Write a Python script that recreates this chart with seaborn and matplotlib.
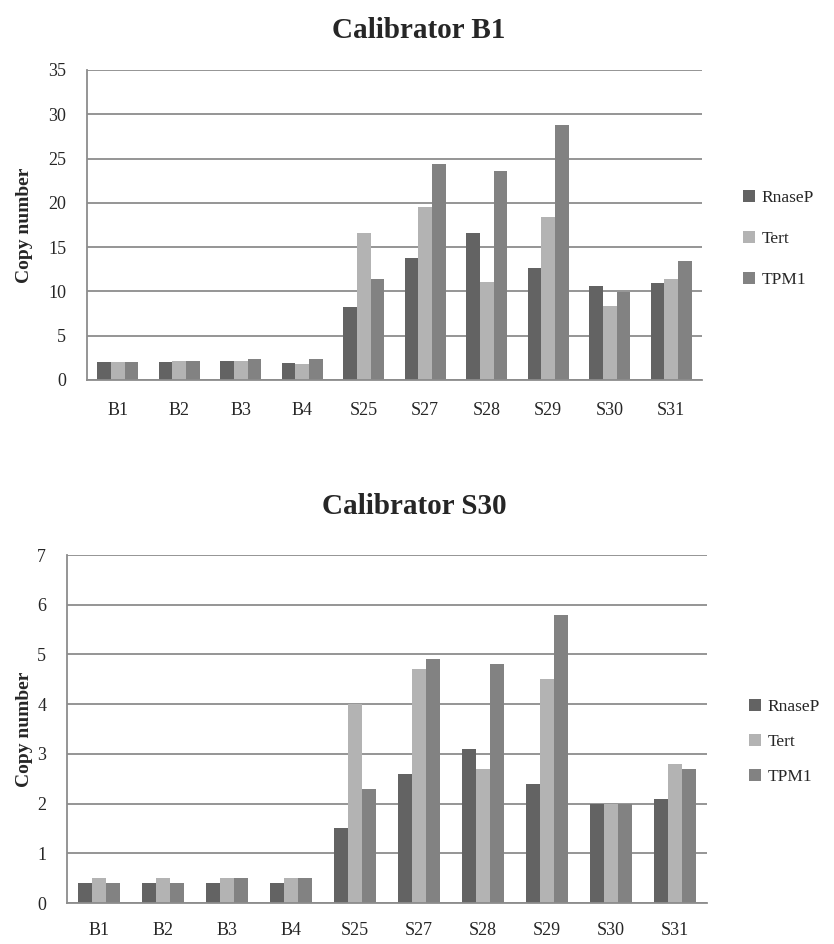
import matplotlib
matplotlib.use("Agg")
import matplotlib.pyplot as plt
import seaborn as sns
import pandas as pd
import numpy as np

samples = ["B1", "B2", "B3", "B4", "S25", "S27", "S28", "S29", "S30", "S31"]
genes = ["RnaseP", "Tert", "TPM1"]

# Copy number relative to calibrator B1
b1_rnasep = [2.0, 2.0, 2.1, 1.9, 8.2, 13.8, 16.6, 12.7, 10.6, 10.9]
b1_tert = [2.0, 2.1, 2.2, 1.8, 16.6, 19.5, 11.1, 18.4, 8.3, 11.4]
b1_tpm1 = [2.0, 2.2, 2.4, 2.4, 11.4, 24.4, 23.6, 28.8, 9.9, 13.4]

# Copy number relative to calibrator S30
s30_rnasep = [0.4, 0.4, 0.4, 0.4, 1.5, 2.6, 3.1, 2.4, 2.0, 2.1]
s30_tert = [0.5, 0.5, 0.5, 0.5, 4.0, 4.7, 2.7, 4.5, 2.0, 2.8]
s30_tpm1 = [0.4, 0.4, 0.5, 0.5, 2.3, 4.9, 4.8, 5.8, 2.0, 2.7]

colors = ["#636363", "#b3b3b3", "#828282"]

sns.set_style("white")
plt.rcParams["font.family"] = ["Liberation Serif", "DejaVu Serif"]

W, H = 834, 944
fig = plt.figure(figsize=(W / 100, H / 100), dpi=100)


def long_frame(series):
    rows = []
    for gene, vals in zip(genes, series):
        for s, v in zip(samples, vals):
            rows.append({"sample": s, "gene": gene, "value": v})
    return pd.DataFrame(rows)


def make_axes(left, top, right, bottom):
    return fig.add_axes([left / W, 1 - bottom / H, (right - left) / W, (bottom - top) / H])


grid_c = "#8c8c8c"


def draw(ax, series, ymax, ystep, title, title_xy, legend_xy, row_gap, xpad, ylab_x):
    df = long_frame(series)
    sns.barplot(data=df, x="sample", y="value", hue="gene", order=samples,
                hue_order=genes, palette=colors, width=0.66, ax=ax,
                edgecolor="none", saturation=1)
    ax.set_ylim(0, ymax)
    ax.set_xlim(-0.5, len(samples) - 0.5)
    ax.set_yticks(np.arange(0, ymax + 0.001, ystep))
    ax.yaxis.grid(True, color=grid_c, linewidth=1.3)
    ax.set_axisbelow(True)
    for side in ["top", "right"]:
        ax.spines[side].set_visible(False)
    for side in ["left", "bottom"]:
        ax.spines[side].set_color(grid_c)
        ax.spines[side].set_linewidth(1.3)
    ax.tick_params(axis="x", which="major", length=0, labelsize=13, pad=xpad)
    ax.set_xticks(np.arange(-0.5, len(samples)), minor=True)
    ax.tick_params(axis="x", which="minor", length=6, color=grid_c, width=1.3)
    ax.tick_params(axis="y", length=6, color=grid_c, width=1.3, labelsize=13, pad=9)
    ax.set_xlabel("")
    ax.set_ylabel("Copy number", fontsize=14, fontweight="bold")
    ax.yaxis.set_label_coords(ylab_x, 0.5)
    fig.text(title_xy[0] / W, 1 - title_xy[1] / H, title, fontsize=21,
             fontweight="bold", ha="center", va="center")
    ax.legend(title=None, frameon=False, loc="center left",
              bbox_to_anchor=(legend_xy[0] / W, 1 - legend_xy[1] / H),
              bbox_transform=fig.transFigure, borderpad=0, borderaxespad=0,
              fontsize=12.5, handlelength=0.7, handleheight=0.7,
              handletextpad=0.35, labelspacing=row_gap)


ax1 = make_axes(87, 70, 702, 380)
ax2 = make_axes(67, 555, 707, 903)

draw(ax1, [b1_rnasep, b1_tert, b1_tpm1], 35, 5, "Calibrator B1",
     (419, 30), (743, 239), 1.45, 16, -0.088)
draw(ax2, [s30_rnasep, s30_tert, s30_tpm1], 7, 1, "Calibrator S30",
     (414, 506), (749, 742), 1.07, 14, -0.053)

fig.savefig("out.png", dpi=100)
